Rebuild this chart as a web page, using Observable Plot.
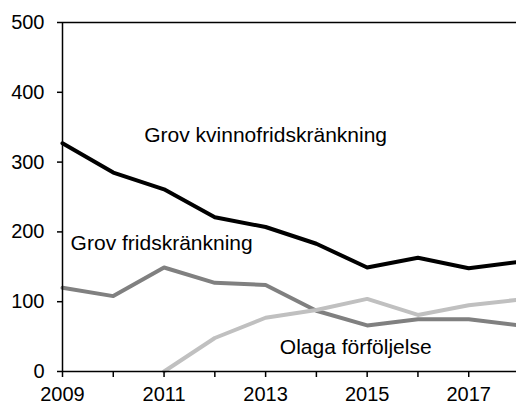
<!DOCTYPE html>
<html><head><meta charset="utf-8">
<script src="https://cdn.jsdelivr.net/npm/d3@7"></script>
<script src="https://cdn.jsdelivr.net/npm/@observablehq/plot@0.6"></script>
<style>body{margin:0;background:#fff}</style>
</head><body><div id="chart"></div>
<script>
const years = [2009, 2010, 2011, 2012, 2013, 2014, 2015, 2016, 2017, 2018];
const kvinnofrid = [327, 285, 261, 221, 207, 183, 149, 163, 148, 157];
const fridskrank = [120, 108, 149, 127, 124, 87, 66, 75, 75, 66];
const olaga = [null, null, 0, 48, 77, 88, 104, 81, 95, 103];
const seriesNames = ["Grov kvinnofridskränkning", "Grov fridskränkning", "Olaga förföljelse"];
const seriesColors = ["#000000", "#808080", "#c0c0c0"];
const labelYears = [2010.61, 2009.16, 2013.28];
const labelValues = [338, 184, 35];
const yTicks = [0, 100, 200, 300, 400, 500];

const seriesValues = [kvinnofrid, fridskrank, olaga];
const data = [];
seriesValues.forEach((vals, i) => vals.forEach((v, j) => {
  if (v !== null) data.push({series: seriesNames[i], year: years[j], value: v});
}));
const labels = seriesNames.map((s, i) => ({series: s, year: labelYears[i], value: labelValues[i]}));

const chart = Plot.plot({
  width: 516,
  height: 405,
  marginLeft: 62,
  marginTop: 22,
  marginBottom: 34,
  marginRight: 0,
  style: {fontFamily: "Liberation Sans, Arial, sans-serif", fontSize: "20px", color: "#000", background: "#fff"},
  x: {domain: [2009, 2018], range: [62, 519]},
  y: {domain: [0, 500]},
  color: {domain: seriesNames, range: seriesColors},
  marks: [
    Plot.line(data, {x: "year", y: "value", z: "series", stroke: "series", strokeWidth: 4, strokeLinejoin: "round"}),
    Plot.ruleY([500], {stroke: "#000", strokeWidth: 1.5}),
    Plot.axisY({ticks: yTicks, tickSize: 5, tickPadding: 13, label: null, fontSize: 20, stroke: "#000", strokeWidth: 1.5}),
    Plot.axisX({ticks: years, tickSize: 6, tickPadding: 9, label: null, fontSize: 20, stroke: "#000", strokeWidth: 1.5,
      tickFormat: d => d % 2 === 1 ? String(d) : ""}),
    Plot.ruleX([2009], {stroke: "#000", strokeWidth: 1.5}),
    Plot.ruleY([0], {stroke: "#000", strokeWidth: 1.5}),
    Plot.text(labels, {x: "year", y: "value", text: "series", textAnchor: "start", fontSize: 21, fill: "#000"})
  ]
});
document.getElementById("chart").appendChild(chart);
</script>
</body></html>
